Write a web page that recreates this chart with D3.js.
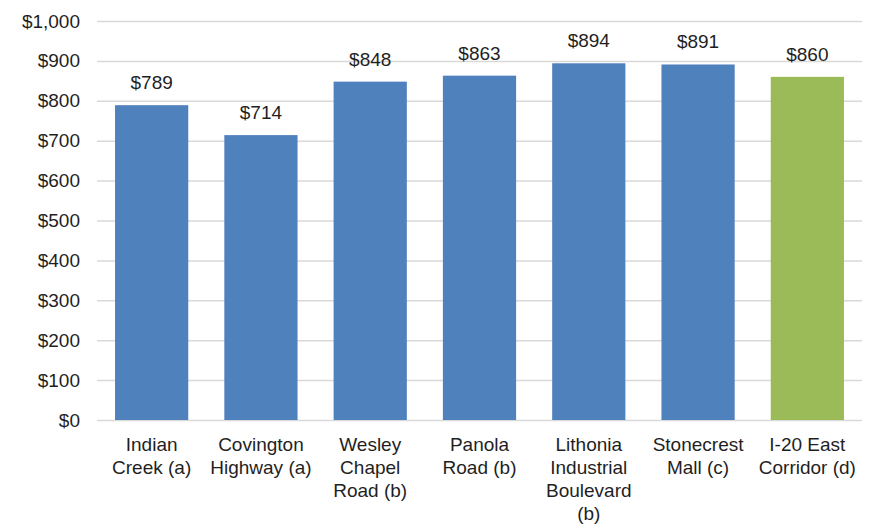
<!DOCTYPE html>
<html>
<head>
<meta charset="utf-8">
<script src="https://cdn.jsdelivr.net/npm/d3@7"></script>
<style>
  html, body { margin: 0; padding: 0; background: #fff; }
  svg text { font-family: "Liberation Sans", Arial, sans-serif; fill: #1f1f1f; }
</style>
</head>
<body>
<svg id="chart" width="875" height="524"></svg>
<script>
// Average rent by area
const categories = [
  ["Indian", "Creek (a)"],
  ["Covington", "Highway (a)"],
  ["Wesley", "Chapel", "Road (b)"],
  ["Panola", "Road (b)"],
  ["Lithonia", "Industrial", "Boulevard", "(b)"],
  ["Stonecrest", "Mall (c)"],
  ["I-20 East", "Corridor (d)"]
];
const values = [789, 714, 848, 863, 894, 891, 860];
const barColors = ["#4f81bd", "#4f81bd", "#4f81bd", "#4f81bd", "#4f81bd", "#4f81bd", "#9bbb59"];
const yTicks = [0, 100, 200, 300, 400, 500, 600, 700, 800, 900, 1000];

const svg = d3.select("#chart");
const margin = { left: 97, right: 13, top: 21, bottom: 104 };
const W = 875, H = 524;
const fontSize = "19px";

const x = d3.scaleBand()
  .domain(d3.range(values.length))
  .range([margin.left, W - margin.right])
  .paddingInner(0.33)
  .paddingOuter(0.165);

const y = d3.scaleLinear()
  .domain([0, 1000])
  .range([H - margin.bottom, margin.top]);

const fmt = v => "$" + d3.format(",")(v);

// Horizontal gridlines and y tick labels
const yAxis = d3.axisLeft(y)
  .tickValues(yTicks)
  .tickFormat(fmt)
  .tickSize(-(W - margin.left - margin.right))
  .tickPadding(17);

const gy = svg.append("g")
  .attr("transform", `translate(${margin.left},0)`)
  .call(yAxis);
gy.select(".domain").remove();
gy.selectAll(".tick line").attr("stroke", "#d9d9d9").attr("stroke-width", 1.5);
gy.selectAll(".tick text").style("font-size", fontSize).attr("fill", "#1f1f1f");

// Bars
svg.append("g").selectAll("rect")
  .data(values)
  .join("rect")
  .attr("x", (d, i) => x(i))
  .attr("y", d => y(d))
  .attr("width", x.bandwidth())
  .attr("height", d => y(0) - y(d))
  .attr("fill", (d, i) => barColors[i]);

// Value labels above bars
svg.append("g").selectAll("text")
  .data(values)
  .join("text")
  .attr("x", (d, i) => x(i) + x.bandwidth() / 2)
  .attr("y", d => y(d) - 16)
  .attr("text-anchor", "middle")
  .style("font-size", fontSize)
  .text(d => fmt(d));

// Category labels (multi-line)
const xl = svg.append("g").selectAll("text")
  .data(categories)
  .join("text")
  .attr("text-anchor", "middle")
  .attr("x", (d, i) => x(i) + x.bandwidth() / 2)
  .attr("y", y(0) + 31)
  .style("font-size", fontSize);
xl.selectAll("tspan")
  .data(d => d)
  .join("tspan")
  .attr("x", function () { return this.parentNode.getAttribute("x"); })
  .attr("dy", (d, i) => i === 0 ? 0 : 23)
  .text(d => d);
</script>
</body>
</html>
